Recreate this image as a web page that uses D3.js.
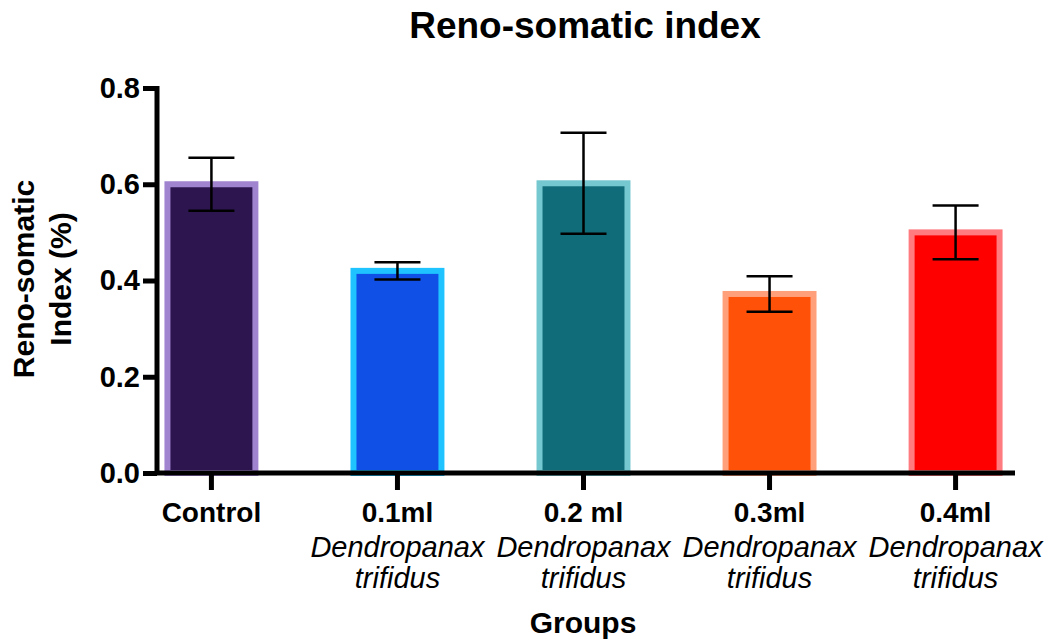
<!DOCTYPE html>
<html>
<head>
<meta charset="utf-8">
<script src="https://cdn.jsdelivr.net/npm/d3@7.9.0/dist/d3.min.js"></script>
<style>
  body { margin: 0; background: #fff; }
  svg { display: block; font-family: "Liberation Sans", Arial, sans-serif; }
</style>
</head>
<body>
<svg id="chart" width="1046" height="644"></svg>
<script>
const groups = ['Control', '0.1ml', '0.2 ml', '0.3ml', '0.4ml'];
const subLabels = [[], ['Dendropanax', 'trifidus'], ['Dendropanax', 'trifidus'], ['Dendropanax', 'trifidus'], ['Dendropanax', 'trifidus']];
const means = [0.6, 0.42, 0.602, 0.372, 0.5];
const errors = [0.055, 0.018, 0.105, 0.037, 0.056];
const fills = ['#2d1650', '#1150e6', '#106c78', '#ff5108', '#ff0000'];
const borders = ['#a084d0', '#1ec3ff', '#75c8d0', '#ffa07a', '#ff7b80'];
const yTicks = [0, 0.2, 0.4, 0.6, 0.8];

const svg = d3.select('#chart');
const plotLeft = 157, plotRight = 1015, plotTop = 88, plotBottom = 473;

let x = d3.scaleBand().domain(groups).range([plotLeft, 1010]).paddingInner(0.495).paddingOuter(0.04);
let y = d3.scaleLinear().domain([0, 0.8]).range([plotBottom, plotTop]);

// bars
groups.forEach((g, i) => {
  let bw = x.bandwidth();
  svg.append('rect')
    .attr('x', x(g) + 3)
    .attr('y', y(means[i]))
    .attr('width', bw - 6)
    .attr('height', y(0) - y(means[i]))
    .attr('fill', fills[i])
    .attr('stroke', borders[i])
    .attr('stroke-width', 6);
});

// error bars
groups.forEach((g, i) => {
  let cx = x(g) + x.bandwidth() / 2;
  let hi = y(means[i] + errors[i]), lo = y(means[i] - errors[i]);
  let eb = svg.append('g').attr('stroke', '#000').attr('stroke-width', 2.5);
  eb.append('line').attr('x1', cx).attr('x2', cx).attr('y1', hi).attr('y2', lo);
  eb.append('line').attr('x1', cx - 23).attr('x2', cx + 23).attr('y1', hi).attr('y2', hi);
  eb.append('line').attr('x1', cx - 23).attr('x2', cx + 23).attr('y1', lo).attr('y2', lo);
});

// y axis
let yAxis = svg.append('g')
  .attr('transform', `translate(${plotLeft},0)`)
  .call(d3.axisLeft(y).tickValues(yTicks).tickFormat(d3.format('.1f')).tickSize(14).tickPadding(3));
yAxis.select('.domain').attr('stroke-width', 5).attr('d', `M0,${plotTop - 2}V${plotBottom + 2}`);
yAxis.selectAll('.tick line').attr('stroke-width', 5);
yAxis.selectAll('text').attr('font-size', 29).attr('font-weight', 'bold').attr('fill', '#000');

// x axis
let xAxis = svg.append('g')
  .attr('transform', `translate(0,${plotBottom})`)
  .call(d3.axisBottom(x).tickSize(17).tickFormat(''));
xAxis.select('.domain').attr('stroke-width', 5).attr('d', `M${plotLeft - 2},0H${plotRight}`);
xAxis.selectAll('.tick line').attr('stroke-width', 5);

groups.forEach((g, i) => {
  let cx = x(g) + x.bandwidth() / 2;
  svg.append('text').attr('x', cx).attr('y', 522)
    .attr('text-anchor', 'middle').attr('font-size', 28).attr('font-weight', 'bold')
    .text(g);
  subLabels[i].forEach((s, j) => {
    svg.append('text').attr('x', cx).attr('y', 557 + j * 31)
      .attr('text-anchor', 'middle').attr('font-size', 29).attr('font-style', 'italic')
      .text(s);
  });
});

// title
svg.append('text').attr('x', 585).attr('y', 38)
  .attr('text-anchor', 'middle').attr('font-size', 37).attr('font-weight', 'bold')
  .text('Reno-somatic index');

// axis titles
svg.append('text').attr('x', 583).attr('y', 633)
  .attr('text-anchor', 'middle').attr('font-size', 30).attr('font-weight', 'bold')
  .text('Groups');

let yl = svg.append('text')
  .attr('transform', 'translate(0,279) rotate(-90)')
  .attr('text-anchor', 'middle').attr('font-size', 30).attr('font-weight', 'bold');
yl.append('tspan').attr('x', 0).attr('y', 34).text('Reno-somatic');
yl.append('tspan').attr('x', 0).attr('y', 71).text('Index (%)');
</script>
</body>
</html>
